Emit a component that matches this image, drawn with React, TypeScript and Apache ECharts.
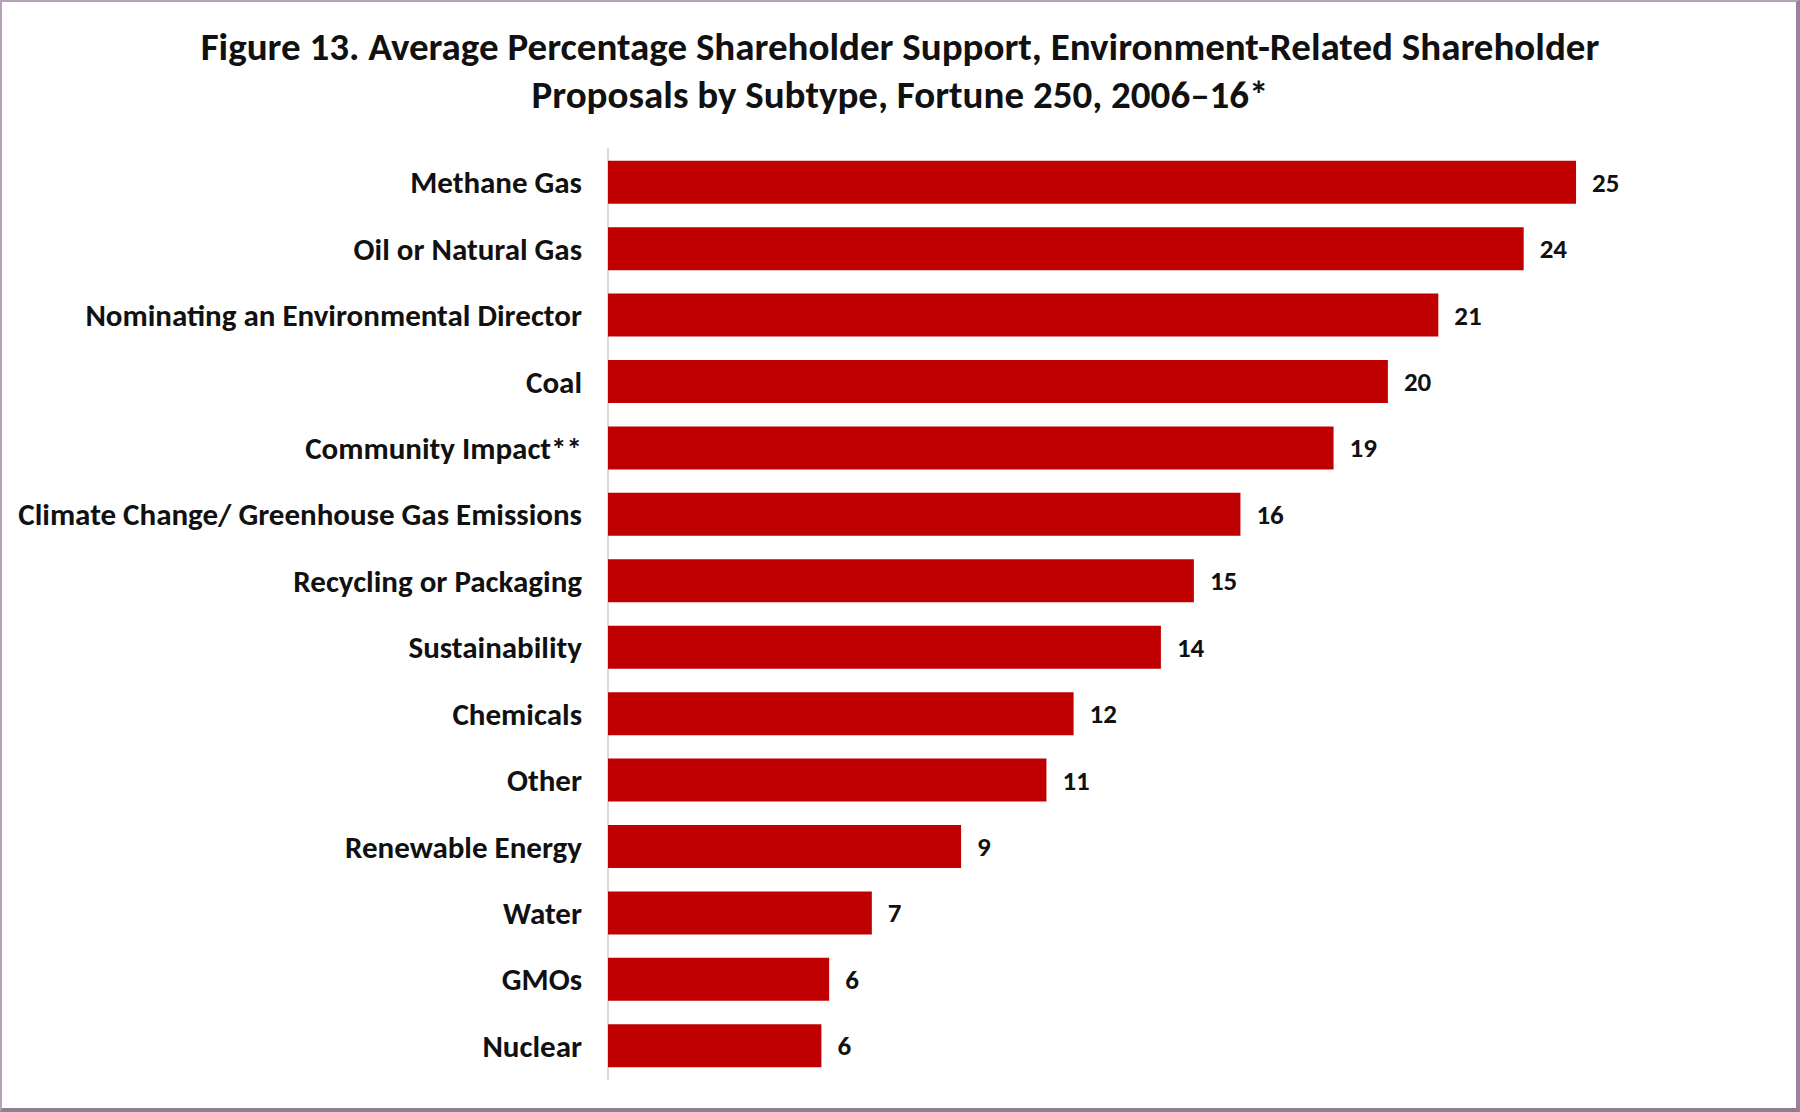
import React, { useEffect, useRef } from 'react';
import * as echarts from 'echarts';

const categories = [
    'Methane Gas',
    'Oil or Natural Gas',
    'Nominating an Environmental Director',
    'Coal',
    'Community Impact**',
    'Climate Change/ Greenhouse Gas Emissions',
    'Recycling or Packaging',
    'Sustainability',
    'Chemicals',
    'Other',
    'Renewable Energy',
    'Water',
    'GMOs',
    'Nuclear',
];

// average support (%); labels show them rounded
const support = [24.95, 23.6, 21.4, 20.1, 18.7, 16.3, 15.1, 14.25, 12.0, 11.3, 9.1, 6.8, 5.7, 5.5];

const titleLines = [
    'Figure 13. Average Percentage Shareholder Support, Environment-Related Shareholder',
    'Proposals by Subtype, Fortune 250, 2006\u201316*',
];

const FONT = 'Carlito, Calibri, Lato, sans-serif';

const App: React.FC = () => {
    const chartRef = useRef<HTMLDivElement | null>(null);

    useEffect(() => {
        document.body.style.margin = '0';
        if (!chartRef.current) return;

        const myChart = echarts.init(chartRef.current, null, { renderer: 'svg' });

        const option = {
            animation: false,
            backgroundColor: '#ffffff',
            title: {
                text: titleLines.join('\n'),
                left: 'center',
                top: 17,
                textStyle: {
                    fontFamily: FONT,
                    fontWeight: 'bold',
                    fontSize: 39,
                    lineHeight: 48,
                    color: '#111111',
                },
            },
            grid: {
                left: 608,
                right: 28,
                top: 149,
                bottom: 33,
                containLabel: false,
            },
            xAxis: {
                type: 'value',
                min: 0,
                max: 30,
                show: false,
                splitLine: { show: false },
            },
            yAxis: {
                type: 'category',
                inverse: true,
                data: categories,
                axisLine: { show: true, lineStyle: { color: '#d9d9d9', width: 2 } },
                axisTick: { show: false },
                axisLabel: {
                    margin: 26,
                    fontFamily: FONT,
                    fontWeight: 'bold',
                    fontSize: 31,
                    color: '#111111',
                },
            },
            series: [
                {
                    type: 'bar',
                    data: support,
                    barWidth: 43,
                    itemStyle: { color: '#c00000' },
                    label: {
                        show: true,
                        position: 'right',
                        distance: 16,
                        fontFamily: FONT,
                        fontWeight: 'bold',
                        fontSize: 27,
                        color: '#111111',
                        formatter: (p: any) => String(Math.round(p.value)),
                    },
                },
            ],
        };

        myChart.setOption(option);

        return () => {
            myChart.dispose();
        };
    }, []);

    return (
        <div style={{ position: 'relative', width: 1800, height: 1112 }}>
            <div ref={chartRef} style={{ width: 1800, height: 1112 }} />
            <div
                style={{
                    position: 'absolute',
                    inset: 0,
                    boxSizing: 'border-box',
                    borderTop: '2px solid #b4a3b6',
                    borderLeft: '2px solid #b4a3b6',
                    borderRight: '4px solid #9a8399',
                    borderBottom: '4px solid #8c8090',
                    pointerEvents: 'none',
                }}
            />
        </div>
    );
};

export default App;
